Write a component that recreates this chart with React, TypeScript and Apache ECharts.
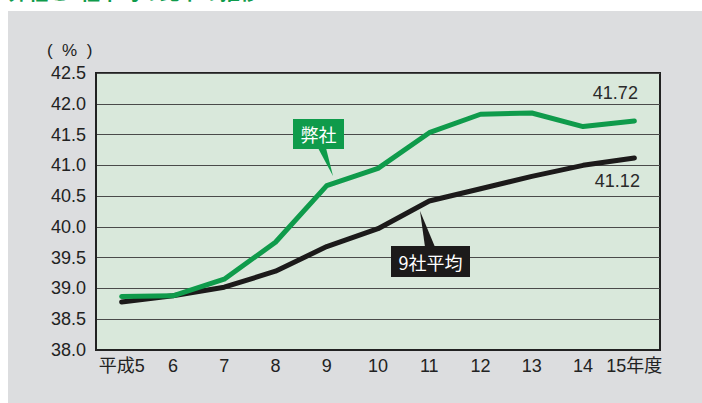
import React, { useEffect, useRef } from "react";
import * as echarts from "echarts";

const categories = ["平成5", "6", "7", "8", "9", "10", "11", "12", "13", "14", "15年度"];
const ourValues = [38.87, 38.88, 39.15, 39.75, 40.67, 40.95, 41.53, 41.83, 41.85, 41.63, 41.72];
const avgValues = [38.78, 38.88, 39.02, 39.28, 39.68, 39.97, 40.42, 40.62, 40.82, 41.0, 41.12];
const ourName = "弊社";
const avgName = "9社平均";
const yMin = 38;
const yMax = 42.5;
const yStep = 0.5;

const GREEN = "#0f9b4b";
const BLACK = "#1c1a1a";

function lastLabel(values: number[], offset: number[]) {
  return values.map((v, i) =>
    i === values.length - 1
      ? {
          value: v,
          label: {
            show: true,
            position: "inside",
            offset,
            formatter: () => v.toFixed(2),
            color: "#2a2a2a",
            fontSize: 18,
            fontFamily: "Liberation Sans, Arial, sans-serif",
          },
        }
      : v
  );
}

export default function App() {
  const ref = useRef<HTMLDivElement>(null);
  useEffect(() => {
    if (!ref.current) return;
    const chart = echarts.init(ref.current, null, { renderer: "svg" });
    const font = "Liberation Sans, Arial, 'Noto Sans CJK JP', sans-serif";
    chart.setOption({
      animation: false,
      backgroundColor: "#ffffff",
      textStyle: { fontFamily: font },
      graphic: [
        {
          type: "rect",
          z: -10,
          silent: true,
          shape: { x: 8, y: 11, width: 694, height: 392 },
          style: { fill: "#dcdddf" },
        },
        {
          type: "text",
          x: 8,
          y: 1,
          z: -5,
          style: {
            text: "弊社と9社平均の比率の推移",
            fill: GREEN,
            font: "bold 20px 'Noto Sans CJK JP', sans-serif",
            textVerticalAlign: "bottom",
          },
        },
        {
          type: "text",
          x: 47,
          y: 42,
          style: {
            text: "(  %  )",
            fill: "#222",
            font: "17px " + font,
          },
        },
        // 弊社 callout
        {
          type: "polygon",
          z: 10,
          shape: { points: [[318, 148], [326, 148], [333, 176]] },
          style: { fill: GREEN },
        },
        {
          type: "rect",
          z: 10,
          shape: { x: 293, y: 119, width: 51, height: 30 },
          style: { fill: GREEN },
        },
        {
          type: "text",
          z: 11,
          x: 318.5,
          y: 134,
          style: {
            text: ourName,
            fill: "#ffffff",
            font: "18px 'Noto Sans CJK JP', sans-serif",
            textAlign: "center",
            textVerticalAlign: "middle",
          },
        },
        // 9社平均 callout
        {
          type: "polygon",
          z: 10,
          shape: { points: [[420, 211], [425, 247], [435, 247]] },
          style: { fill: BLACK },
        },
        {
          type: "rect",
          z: 10,
          shape: { x: 391, y: 246, width: 79, height: 31 },
          style: { fill: BLACK },
        },
        {
          type: "text",
          z: 11,
          x: 430.5,
          y: 262,
          style: {
            text: avgName,
            fill: "#ffffff",
            font: "18px 'Noto Sans CJK JP', sans-serif",
            textAlign: "center",
            textVerticalAlign: "middle",
          },
        },
      ],
      grid: {
        left: 96,
        top: 73,
        right: 42,
        bottom: 53,
        show: true,
        backgroundColor: "#d9e8db",
        borderColor: "#222",
        borderWidth: 2,
      },
      xAxis: {
        type: "category",
        data: categories,
        boundaryGap: true,
        axisLine: { lineStyle: { color: "#222", width: 2 } },
        axisTick: {
          inside: true,
          alignWithLabel: true,
          length: 9,
          lineStyle: { color: "#444", width: 1 },
        },
        axisLabel: {
          interval: 0,
          color: "#222",
          fontSize: 18,
          margin: 7,
          fontFamily: "'Liberation Sans', 'Noto Sans CJK JP', sans-serif",
        },
        splitLine: { show: false },
      },
      yAxis: {
        type: "value",
        min: yMin,
        max: yMax,
        interval: yStep,
        axisLine: { show: true, lineStyle: { color: "#222", width: 2 } },
        axisTick: { show: false },
        axisLabel: {
          color: "#222",
          fontSize: 18,
          margin: 10,
          formatter: (v: number) => v.toFixed(1),
        },
        splitLine: { show: true, lineStyle: { color: "#4a4a4a", width: 1 } },
      },
      series: [
        {
          name: avgName,
          type: "line",
          data: lastLabel(avgValues, [-17, 23]),
          symbol: "circle",
          symbolSize: 0,
          showSymbol: true,
          lineStyle: { color: BLACK, width: 5, cap: "round", join: "round" },
          itemStyle: { color: BLACK },
          z: 3,
        },
        {
          name: ourName,
          type: "line",
          data: lastLabel(ourValues, [-19, -28]),
          symbol: "circle",
          symbolSize: 0,
          showSymbol: true,
          lineStyle: { color: GREEN, width: 5, cap: "round", join: "round" },
          itemStyle: { color: GREEN },
          z: 4,
        },
      ],
    });
    return () => chart.dispose();
  }, []);
  return (
    <div
      ref={ref}
      style={{ position: "absolute", left: 0, top: 0, width: 702, height: 403 }}
    />
  );
}
